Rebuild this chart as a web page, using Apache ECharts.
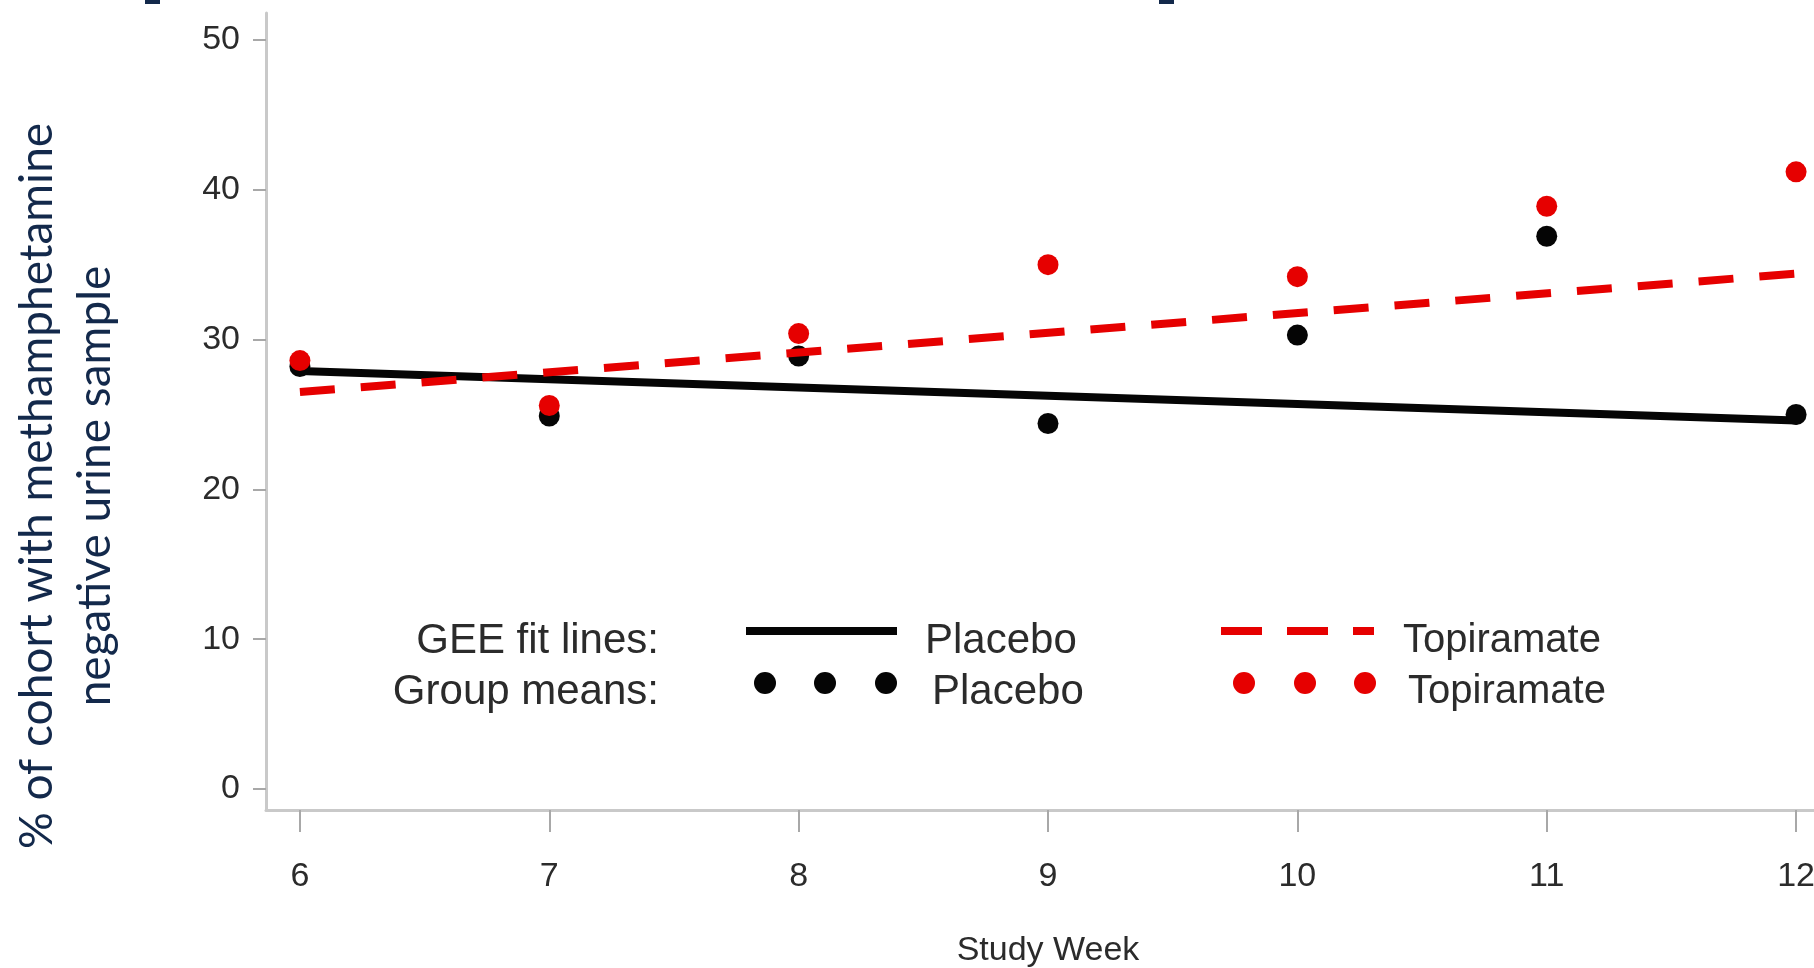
<!DOCTYPE html>
<html>
<head>
<meta charset="utf-8">
<script src="https://cdn.jsdelivr.net/npm/echarts@6/dist/echarts.min.js"></script>
<style>
  html, body { margin: 0; padding: 0; background: #ffffff; }
  #chart { width: 1814px; height: 968px; }
</style>
</head>
<body>
<div id="chart"></div>
<script>
// Study weeks and observed group means (% of cohort with a negative urine sample)
const weeks = [6, 7, 8, 9, 10, 11, 12];
const placeboMeans = [28.2, 24.9, 28.9, 24.4, 30.3, 36.9, 25.0];
const topiramateMeans = [28.6, 25.6, 30.4, 35.0, 34.2, 38.9, 41.2];

// GEE fitted lines, evaluated at the first and last week
const fitWeeks = [6, 12];
const placeboFit = [27.9, 24.6];
const topiramateFit = [26.5, 34.4];

// Axis tick labels
const xTicks = [6, 7, 8, 9, 10, 11, 12];
const yTicks = [0, 10, 20, 30, 40, 50];

const BLACK = '#050505';
const RED = '#e60000';
const AXIS = '#c9c9c9';
const TICK = '#a8a8a8';
const TEXT = '#2b2b2b';
const NAVY = '#13294b';
const FONT = '"Liberation Sans", Arial, sans-serif';

const pairs = (xs, ys) => xs.map((x, i) => [x, ys[i]]);

const chart = echarts.init(document.getElementById('chart'), null, { renderer: 'canvas' });

// Legend rows are drawn as graphic elements
const legendRow1 = 631, legendRow2 = 683;
const placeboDots = [765, 825, 886];
const topiramateDots = [1244, 1305, 1365];

function legendText(x, y, text, size, align) {
  return {
    type: 'text', x: x, y: y,
    style: { text: text, font: size + 'px ' + FONT, fill: TEXT, align: align, verticalAlign: 'middle' }
  };
}

const graphics = [
  // y-axis title, two centred lines reading upwards
  {
    type: 'text', x: 66, y: 486, rotation: Math.PI / 2,
    style: {
      text: '% of cohort with methamphetamine\nnegative urine sample',
      font: '46px Lato, "Noto Sans", sans-serif',
      fill: NAVY, align: 'center', verticalAlign: 'middle', lineHeight: 58
    }
  },
  // fragments of the heading running off the top edge
  { type: 'rect', shape: { x: 145, y: 0, width: 15, height: 4 }, style: { fill: NAVY } },
  { type: 'rect', shape: { x: 1159, y: 0, width: 15, height: 4 }, style: { fill: NAVY } },

  // legend labels
  legendText(659, legendRow1 + 10, 'GEE fit lines:', 42, 'right'),
  legendText(659, legendRow2 + 9, 'Group means:', 42, 'right'),
  legendText(925, legendRow1 + 10, 'Placebo', 42, 'left'),
  legendText(932, legendRow2 + 9, 'Placebo', 42, 'left'),
  legendText(1403, legendRow1 + 10, 'Topiramate', 40, 'left'),
  legendText(1408, legendRow2 + 9, 'Topiramate', 40, 'left'),

  // legend line samples
  { type: 'line', shape: { x1: 746, y1: legendRow1, x2: 897, y2: legendRow1 }, style: { stroke: BLACK, lineWidth: 8 } },
  { type: 'line', shape: { x1: 1221, y1: legendRow1, x2: 1374, y2: legendRow1 }, style: { stroke: RED, lineWidth: 8, lineDash: [41, 25] } }
];
placeboDots.forEach(cx => graphics.push({ type: 'circle', shape: { cx: cx, cy: legendRow2, r: 11 }, style: { fill: BLACK } }));
topiramateDots.forEach(cx => graphics.push({ type: 'circle', shape: { cx: cx, cy: legendRow2, r: 11 }, style: { fill: RED } }));

chart.setOption({
  backgroundColor: '#ffffff',
  animation: false,
  grid: { left: 266, top: 13, width: 1564, height: 797, containLabel: false, outerBoundsMode: 'none' },
  xAxis: {
    type: 'value', min: 5.864, max: 12.136,
    name: 'Study Week', nameLocation: 'middle', nameGap: 124,
    nameTextStyle: { fontFamily: FONT, fontSize: 34, color: TEXT },
    axisLine: { show: true, onZero: false, lineStyle: { color: AXIS, width: 3 } },
    axisTick: { show: true, length: 22, customValues: xTicks, lineStyle: { color: TICK, width: 2 } },
    axisLabel: { customValues: xTicks, margin: 50, fontFamily: FONT, fontSize: 34, color: TEXT },
    splitLine: { show: false }
  },
  yAxis: {
    type: 'value', min: -1.4, max: 51.8,
    axisLine: { show: true, onZero: false, lineStyle: { color: AXIS, width: 3 } },
    axisTick: { show: true, length: 13, customValues: yTicks, lineStyle: { color: TICK, width: 2 } },
    axisLabel: { customValues: yTicks, margin: 26, fontFamily: FONT, fontSize: 34, color: TEXT },
    splitLine: { show: false }
  },
  series: [
    {
      name: 'Placebo fit', type: 'line', data: pairs(fitWeeks, placeboFit),
      showSymbol: false, symbol: 'none', z: 2,
      lineStyle: { color: BLACK, width: 8, cap: 'round' }
    },
    {
      name: 'Placebo means', type: 'scatter', data: pairs(weeks, placeboMeans),
      symbol: 'circle', symbolSize: 21, z: 3,
      itemStyle: { color: BLACK, opacity: 1 }
    },
    {
      name: 'Topiramate fit', type: 'line', data: pairs(fitWeeks, topiramateFit),
      showSymbol: false, symbol: 'none', z: 4,
      lineStyle: { color: RED, width: 8, type: [35, 26] }
    },
    {
      name: 'Topiramate means', type: 'scatter', data: pairs(weeks, topiramateMeans),
      symbol: 'circle', symbolSize: 21, z: 5,
      itemStyle: { color: RED, opacity: 1 }
    }
  ],
  graphic: graphics
});
</script>
</body>
</html>
